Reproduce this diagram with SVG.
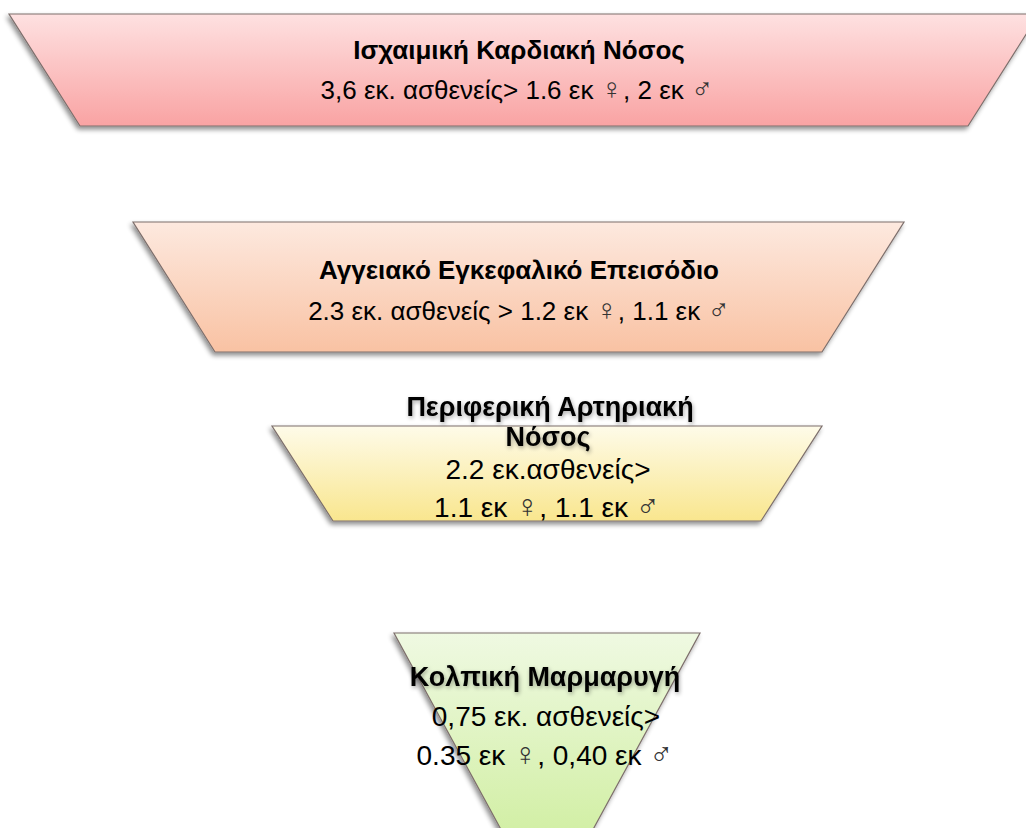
<svg xmlns="http://www.w3.org/2000/svg" width="1026" height="828" viewBox="0 0 1026 828">
  <defs>
    <linearGradient id="gRed" x1="0" y1="0" x2="0" y2="1">
      <stop offset="0" stop-color="#fee1e1"/>
      <stop offset="1" stop-color="#f9a3a3"/>
    </linearGradient>
    <linearGradient id="gOrange" x1="0" y1="0" x2="0" y2="1">
      <stop offset="0" stop-color="#fde9df"/>
      <stop offset="1" stop-color="#f9c2a3"/>
    </linearGradient>
    <linearGradient id="gYellow" x1="0" y1="0" x2="0" y2="1">
      <stop offset="0" stop-color="#fefbe9"/>
      <stop offset="1" stop-color="#f9e68e"/>
    </linearGradient>
    <linearGradient id="gGreen" x1="0" y1="0" x2="0" y2="1">
      <stop offset="0" stop-color="#eff9e2"/>
      <stop offset="1" stop-color="#c6eb8c"/>
    </linearGradient>
    <filter id="shadow" x="-10%" y="-20%" width="120%" height="150%">
      <feGaussianBlur in="SourceAlpha" stdDeviation="2.5"/>
      <feOffset dx="-2" dy="3" result="b"/>
      <feComponentTransfer><feFuncA type="linear" slope="0.45"/></feComponentTransfer>
      <feMerge><feMergeNode/><feMergeNode in="SourceGraphic"/></feMerge>
    </filter>
    <filter id="textGlow" x="-10%" y="-40%" width="120%" height="180%">
      <feGaussianBlur in="SourceAlpha" stdDeviation="2"/>
      <feOffset dx="1" dy="2"/>
      <feComponentTransfer><feFuncA type="linear" slope="0.35"/></feComponentTransfer>
      <feMerge><feMergeNode/><feMergeNode in="SourceGraphic"/></feMerge>
    </filter>
  </defs>
  <style>
    .shape { stroke: #7d6f6c; stroke-width: 1.2; filter: url(#shadow); }
    text { font-family: "Liberation Sans", Arial, "DejaVu Sans", sans-serif; fill: #000; text-anchor: middle; }
    .t1 { font-size: 26px; font-weight: bold; }
    .s1 { font-size: 26px; }
    .t2 { font-size: 27px; font-weight: bold; filter: url(#textGlow); }
    .s2 { font-size: 28px; }
    .sym { font-family: "DejaVu Sans", sans-serif; font-weight: 200; font-size: 1.15em; fill: #333; }
  </style>

  <rect width="1026" height="828" fill="#ffffff"/>

  <!-- Ischaemic heart disease -->
  <g id="ischaemic-heart-disease">
    <polygon class="shape" points="9,14 1039,14 968,126 80,126" fill="url(#gRed)"/>
    <text class="t1" x="519" y="59">Ισχαιμική Καρδιακή Νόσος</text>
    <text class="s1" x="517" y="99">3,6 εκ. ασθενείς&gt; 1.6 εκ <tspan class="sym">♀</tspan>, 2 εκ <tspan class="sym">♂</tspan></text>
  </g>

  <!-- Stroke -->
  <g id="stroke">
    <polygon class="shape" points="133,222 904,222 822,352 215,352" fill="url(#gOrange)"/>
    <text class="t1" x="519" y="279">Αγγειακό Εγκεφαλικό Επεισόδιο</text>
    <text class="s1" x="519" y="320">2.3 εκ. ασθενείς &gt; 1.2 εκ <tspan class="sym">♀</tspan>, 1.1 εκ <tspan class="sym">♂</tspan></text>
  </g>

  <!-- Peripheral arterial disease -->
  <g id="peripheral-arterial-disease">
    <polygon class="shape" points="272,426 822,426 761,521 333,521" fill="url(#gYellow)"/>
    <text class="t2" x="550" y="416">Περιφερική Αρτηριακή</text>
    <text class="t2" x="548" y="446">Νόσος</text>
    <text class="s2" x="548" y="479">2.2 εκ.ασθενείς&gt;</text>
    <text class="s2" x="547" y="517">1.1 εκ <tspan class="sym">♀</tspan>, 1.1 εκ <tspan class="sym">♂</tspan></text>
  </g>

  <!-- Atrial fibrillation -->
  <g id="atrial-fibrillation">
    <polygon class="shape" points="394,633 700,633 547,914" fill="url(#gGreen)"/>
    <text class="t2" x="545" y="686">Κολπική Μαρμαρυγή</text>
    <text class="s2" x="546" y="726">0,75 εκ. ασθενείς&gt;</text>
    <text class="s2" x="545" y="765">0.35 εκ <tspan class="sym">♀</tspan>, 0,40 εκ <tspan class="sym">♂</tspan></text>
  </g>

  <g id="connectors"/>
</svg>
